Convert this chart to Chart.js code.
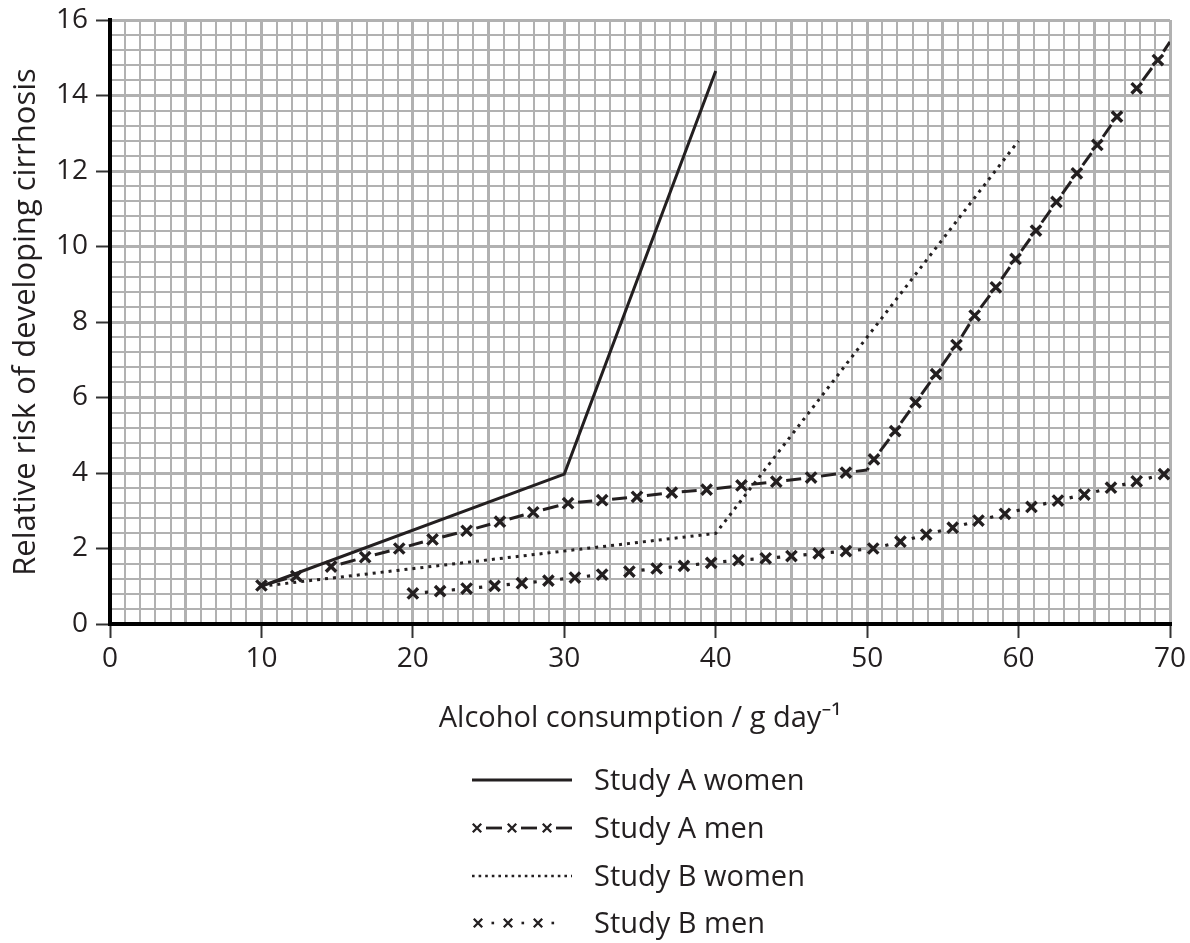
<!DOCTYPE html>
<html>
<head>
<meta charset="utf-8">
<script src="https://cdn.jsdelivr.net/npm/chart.js@4.4.0/dist/chart.umd.min.js"></script>
<style>
html,body{margin:0;padding:0;background:#ffffff;}
#wrap{position:relative;width:1190px;height:943px;}
</style>
</head>
<body>
<div id="wrap"><canvas id="c" width="1190" height="943"></canvas></div>
<script>
// ---------- data ----------
const seriesNames = ['Study A women', 'Study A men', 'Study B women', 'Study B men'];
const xTitle = 'Alcohol consumption / g day\u207B\u00B9';
const yTitle = 'Relative risk of developing cirrhosis';
const xTickLabels = [0, 10, 20, 30, 40, 50, 60, 70];
const yTickLabels = [0, 2, 4, 6, 8, 10, 12, 14, 16];

const aWomenX = [10, 30, 40];
const aWomenY = [1.0, 3.97, 14.65];

const aMenX = [10, 12.3, 14.6, 16.85, 19.1, 21.3, 23.55, 25.75, 27.95, 30.25,
               32.5, 34.8, 37.1, 39.4, 41.7, 44.0, 46.3, 48.6, 50.0, 50.45,
               51.85, 53.2, 54.55, 55.9, 57.1, 58.5, 59.8, 61.15, 62.5, 63.85,
               65.2, 66.5, 67.8, 69.2, 70];
const aMenY = [1.02, 1.27, 1.52, 1.77, 2.0, 2.24, 2.47, 2.71, 2.96, 3.2,
               3.28, 3.37, 3.48, 3.56, 3.67, 3.77, 3.88, 4.01, 4.08, 4.36,
               5.11, 5.87, 6.62, 7.39, 8.17, 8.92, 9.67, 10.42, 11.18, 11.94,
               12.69, 13.44, 14.19, 14.94, 15.42];
const aMenMarked = [1,1,1,1,1,1,1,1,1,1, 1,1,1,1,1,1,1,1,0,1, 1,1,1,1,1,1,1,1,1,1, 1,1,1,1,0];

const bWomenX = [10, 40, 60];
const bWomenY = [1.0, 2.4, 12.8];

const bMenX = [20.0, 21.8, 23.55, 25.4, 27.2, 28.95, 30.7, 32.5, 34.3, 36.1,
               37.9, 39.7, 41.5, 43.3, 45.0, 46.8, 48.6, 50.4, 52.2, 53.9,
               55.65, 57.35, 59.1, 60.85, 62.6, 64.35, 66.1, 67.8, 69.6];
const bMenY = [0.81, 0.87, 0.94, 1.01, 1.08, 1.15, 1.23, 1.31, 1.39, 1.47,
               1.54, 1.62, 1.69, 1.74, 1.80, 1.87, 1.93, 2.0, 2.18, 2.37,
               2.55, 2.74, 2.92, 3.1, 3.27, 3.43, 3.61, 3.78, 3.97];

// ---------- helpers ----------
const INK = '#231f20';
const GRID = '#b1b1b1';
const FONT = '"Open Sans", "Noto Sans", sans-serif';
const TITLE_SIZE = 29;
const YTITLE_SIZE = 31;
const TICK_SIZE = 28;
const pts = (xs, ys) => xs.map((x, i) => ({x: x, y: ys[i]}));
const isMult = (v, m) => Math.abs(v / m - Math.round(v / m)) < 1e-6;
const segLen = (c) => Math.hypot(c.p1.x - c.p0.x, c.p1.y - c.p0.y);

Chart.defaults.font.family = FONT;
Chart.defaults.color = INK;

const legendPlugin = {
  id: 'customLegend',
  afterDraw(chart) {
    const ctx = chart.ctx;
    const x0 = 472, x1 = 572, textX = 594;
    const rows = [780, 828, 876, 923];
    ctx.save();
    ctx.fillStyle = INK;
    ctx.strokeStyle = INK;
    ctx.font = TITLE_SIZE + 'px ' + FONT;
    ctx.textBaseline = 'alphabetic';
    ctx.textAlign = 'left';
    seriesNames.forEach((n, i) => ctx.fillText(n, textX, rows[i] + 10));

    const cross = (cx, cy) => {
      const h = 4.2;
      ctx.beginPath();
      ctx.moveTo(cx - h, cy - h); ctx.lineTo(cx + h, cy + h);
      ctx.moveTo(cx - h, cy + h); ctx.lineTo(cx + h, cy - h);
      ctx.lineWidth = 2.3; ctx.setLineDash([]); ctx.stroke();
    };
    // row 1 solid
    ctx.beginPath(); ctx.lineWidth = 2.8; ctx.setLineDash([]);
    ctx.moveTo(x0, rows[0]); ctx.lineTo(x1, rows[0]); ctx.stroke();
    // row 2 x - x - x -
    [477, 512, 547].forEach(cx => {
      cross(cx, rows[1]);
      ctx.beginPath(); ctx.lineWidth = 2.8;
      ctx.moveTo(cx + 9, rows[1]); ctx.lineTo(cx + 25, rows[1]); ctx.stroke();
    });
    // row 3 dotted
    ctx.beginPath(); ctx.lineWidth = 2.6; ctx.setLineDash([2.6, 4]);
    ctx.moveTo(x0, rows[2]); ctx.lineTo(x1, rows[2]); ctx.stroke();
    ctx.setLineDash([]);
    // row 4 x . x . x .
    [478, 508, 538].forEach(cx => {
      cross(cx, rows[3]);
      ctx.fillRect(cx + 13.5, rows[3] - 1.3, 2.6, 2.6);
    });
    ctx.restore();
  }
};

new Chart(document.getElementById('c'), {
  type: 'line',
  data: {
    datasets: [
      {
        label: seriesNames[0],
        data: pts(aWomenX, aWomenY),
        borderColor: INK, borderWidth: 3, pointRadius: 0, tension: 0
      },
      {
        label: seriesNames[1],
        data: pts(aMenX, aMenY),
        borderColor: INK, borderWidth: 3, tension: 0,
        pointStyle: 'crossRot',
        pointRadius: (c) => aMenMarked[c.dataIndex] ? 7.3 : 0,
        pointBorderWidth: 3.4, pointBorderColor: INK,
        segment: {
          borderDash: (c) => {
            const L = segLen(c);
            const g0 = aMenMarked[c.p0DataIndex] ? 10 : 0;
            const g1 = aMenMarked[c.p1DataIndex] ? 10 : 0;
            return [0, g0, Math.max(L - g0 - g1, 0.01), g1 + 200 + L];
          }
        }
      },
      {
        label: seriesNames[2],
        data: pts(bWomenX, bWomenY),
        borderColor: INK, borderWidth: 3, pointRadius: 0, tension: 0,
        borderDash: [3, 5]
      },
      {
        label: seriesNames[3],
        data: pts(bMenX, bMenY),
        borderColor: INK, borderWidth: 3.2, tension: 0,
        pointStyle: 'crossRot', pointRadius: 7.3,
        pointBorderWidth: 3.4, pointBorderColor: INK,
        segment: {
          borderDash: (c) => {
            const L = segLen(c);
            return [0, L / 2 - 1.6, 3.2, L + 200];
          }
        }
      }
    ]
  },
  options: {
    responsive: false,
    animation: false,
    events: [],
    layout: {padding: {left: 0, right: 20, top: 20, bottom: 207}},
    plugins: {legend: {display: false}, tooltip: {enabled: false}},
    scales: {
      x: {
        type: 'linear', min: 0, max: 70,
        afterFit: (s) => { s.height = 112; s.paddingLeft = 0; s.paddingRight = 0; },
        ticks: {
          stepSize: 1, autoSkip: false, maxRotation: 0, minRotation: 0,
          padding: 4, color: INK, font: {size: TICK_SIZE},
          callback: (v) => xTickLabels.includes(Math.round(v)) && isMult(v, 10) ? String(Math.round(v)) : ''
        },
        grid: {
          color: GRID,
          lineWidth: (c) => isMult(c.tick.value, 5) ? 3 : 2,
          drawTicks: true, tickLength: 14, tickWidth: 2,
          tickColor: (c) => isMult(c.tick.value, 10) ? '#333333' : 'rgba(0,0,0,0)'
        },
        border: {display: true, color: '#000000', width: 4},
        title: {display: true, text: xTitle, color: INK, font: {size: TITLE_SIZE}, padding: {top: 0, bottom: 0}}
      },
      y: {
        type: 'linear', min: 0, max: 16,
        afterFit: (s) => { s.width = 110; s.paddingTop = 0; s.paddingBottom = 0; },
        ticks: {
          stepSize: 0.4, autoSkip: false, padding: 8, color: INK, font: {size: TICK_SIZE},
          callback: (v) => isMult(v, 2) && yTickLabels.includes(Math.round(v)) ? String(Math.round(v)) : ''
        },
        grid: {
          color: GRID,
          lineWidth: (c) => isMult(c.tick.value, 2) ? 3 : 2,
          drawTicks: true, tickLength: 14, tickWidth: 2,
          tickColor: (c) => isMult(c.tick.value, 2) ? '#333333' : 'rgba(0,0,0,0)'
        },
        border: {display: true, color: '#000000', width: 4},
        title: {display: true, text: yTitle, color: INK, font: {size: YTITLE_SIZE}, padding: {top: 8, bottom: 0}}
      }
    }
  },
  plugins: [legendPlugin]
});
</script>
</body>
</html>
